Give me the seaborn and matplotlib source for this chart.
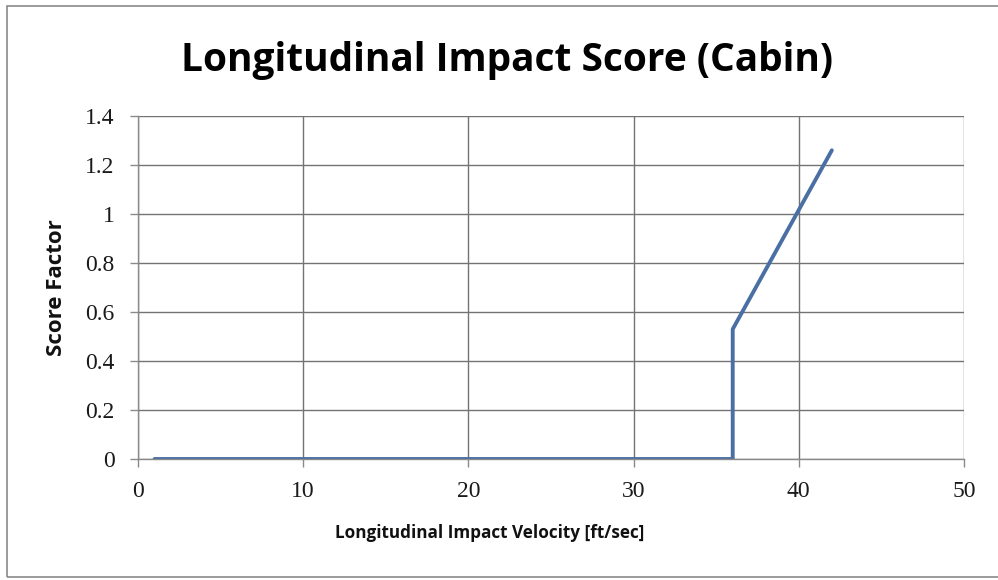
import matplotlib
matplotlib.use("Agg")
import matplotlib.pyplot as plt
import seaborn as sns
import pandas as pd
from matplotlib.patches import Rectangle

# Data
velocity = [1, 36, 36, 42]
score = [0, 0, 0.53, 1.26]
x_ticks = [0, 10, 20, 30, 40, 50]
y_ticks = [0, 0.2, 0.4, 0.6, 0.8, 1.0, 1.2, 1.4]
y_tick_labels = ["0", "0.2", "0.4", "0.6", "0.8", "1", "1.2", "1.4"]
title = "Longitudinal Impact Score (Cabin)"
x_label = "Longitudinal Impact Velocity [ft/sec]"
y_label = "Score Factor"

df = pd.DataFrame({"v": velocity, "s": score})

sns.set_theme(style="white")
plt.rcParams['font.family'] = ['Open Sans', 'DejaVu Sans']

fig = plt.figure(figsize=(9.98, 5.8), dpi=100)
fig.patch.set_facecolor("white")
ax = fig.add_axes([138/998, (580-459)/580, (964-138)/998, (459-116)/580])

sns.lineplot(data=df, x="v", y="s", ax=ax, sort=False, color="#4A6FA5",
             linewidth=2.8, estimator=None)

ax.set_xlim(0, 50)
ax.set_ylim(0, 1.4)
ax.set_xticks(x_ticks)
ax.set_yticks(y_ticks)
ax.set_xticklabels([str(t) for t in x_ticks], family="Liberation Serif",
                   fontsize=17, color="#1a1a1a")
ax.set_yticklabels(y_tick_labels, family="Liberation Serif",
                   fontsize=17, color="#1a1a1a")
ax.grid(True, color="#737373", linewidth=1.0)
ax.set_axisbelow(True)
for side in ["top", "right"]:
    ax.spines[side].set_visible(False)
for side in ["left", "bottom"]:
    ax.spines[side].set_color("#8a8a8a")
    ax.spines[side].set_linewidth(1.0)
ax.tick_params(axis="both", which="both", direction="out", length=6,
               color="#8a8a8a", width=1.0, bottom=True, left=True)
ax.tick_params(axis="x", pad=10)
ax.tick_params(axis="y", pad=11)

ax.set_xlabel(x_label, fontsize=12.3, fontweight="bold", color="#111111")
ax.set_ylabel(y_label, fontsize=16, fontweight="bold", color="#111111")
ax.xaxis.set_label_coords((490-138)/826, -0.19)
ax.yaxis.set_label_coords(-0.086, 0.5)

fig.text(507/998, 1 - 60/580, title, ha="center", va="center",
         fontsize=28, fontweight="bold", color="#000000")

fig.patches.append(Rectangle((7/998, 3/580), 1.1, (574-3)/580,
                             transform=fig.transFigure, fill=False,
                             edgecolor="#8a8a8a", linewidth=1.2))

fig.savefig("out.png", dpi=100)
